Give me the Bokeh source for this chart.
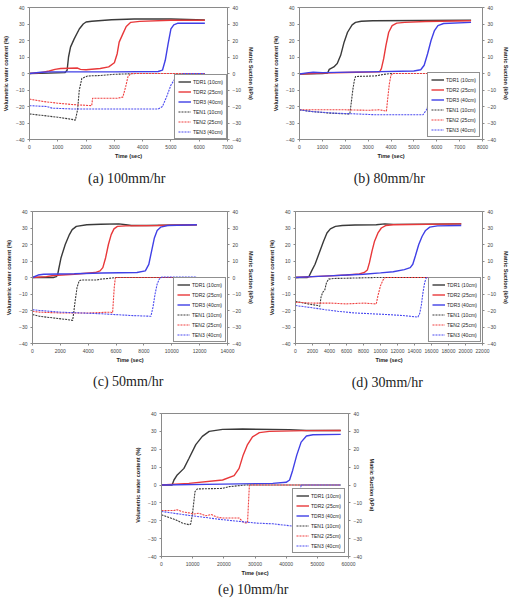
from bokeh.plotting import figure
from bokeh.models import Range1d, LinearAxis, FixedTicker, Legend, LegendItem, Title, Spacer
from bokeh.layouts import row, column
from bokeh.embed import file_html
from bokeh.resources import INLINE

# Infiltration test readings: (time in sec, value).
# TDR = volumetric water content (%), TEN = matric suction (kPa)

# (a) 100 mm/hr
a_tdr1 = [(0, 0), (700, 0.2), (1250, 0.5), (1330, 2), (1380, 10), (1450, 16), (1580, 21), (1760, 27),
          (1900, 30), (2000, 31.2), (2200, 31.7), (2900, 32.6), (3700, 33), (5000, 33), (6200, 32.5)]
a_tdr2 = [(0, 0), (400, 0.5), (700, 1.5), (900, 2.5), (1100, 3), (1700, 3.3), (1800, 2.5), (2000, 2.3),
          (2500, 3), (2800, 4), (3000, 6.5), (3100, 12), (3170, 19), (3300, 24), (3420, 28.5), (3580, 31),
          (3900, 31.6), (5000, 32.3), (6200, 32.3)]
a_tdr3 = [(0, 0), (400, 0.8), (800, 1), (3000, 1), (4550, 1.2), (4700, 2), (4800, 8), (4900, 18),
          (5000, 27), (5100, 29.5), (5250, 30.5), (6200, 30.5)]
a_ten1 = [(0, -24.5), (500, -25.5), (1000, -26.5), (1500, -27.8), (1620, -28.3), (1700, -22), (1760, -10),
          (1850, -3), (2050, -1.5), (2500, -1.2), (3000, -0.5), (3800, 0), (6200, 0)]
a_ten2 = [(0, -15.5), (500, -17), (1000, -18), (1500, -18.8), (2200, -19.5), (2230, -15), (2600, -15),
          (3100, -15), (3300, -14.3), (3400, -8), (3480, -2), (3580, 0), (6200, 0)]
a_ten3 = [(0, -19.5), (600, -20), (800, -21), (1500, -21.5), (4550, -21.5), (4700, -20), (4850, -14),
          (5000, -7), (5150, -3), (5300, -0.8), (5450, 0), (6200, 0)]

# (b) 80 mm/hr
b_tdr1 = [(0, -0.3), (1000, 0), (1230, 0.3), (1300, 2.5), (1500, 4), (1650, 6), (1800, 11), (1950, 19),
          (2100, 25), (2300, 29.5), (2450, 31), (2700, 31.7), (3200, 32), (7500, 32.3)]
b_tdr2 = [(0, -0.3), (1000, 0.3), (2500, 0.8), (3500, 1), (3580, 3), (3680, 9), (3780, 17), (3900, 25),
          (4050, 29), (4250, 30.5), (4600, 31), (5500, 31.5), (7500, 32)]
b_tdr3 = [(0, -0.3), (400, 0.5), (600, 0.8), (1000, 0.5), (3000, 1), (5000, 1.5), (5300, 2.3), (5450, 5),
          (5600, 12), (5750, 20), (5900, 26), (6050, 29), (6300, 30.3), (7500, 31)]
b_ten1 = [(0, -22), (500, -23), (1300, -24), (2100, -24.5), (2200, -24.5), (2260, -18), (2330, -10),
          (2400, -4), (2450, -1.8), (3300, -1.5), (3500, -1), (3800, -0.3), (4000, 0), (7500, 0)]
b_ten2 = [(0, -22), (2000, -22), (3000, -22.3), (3500, -22), (3800, -22.8), (3850, -16), (3930, -6),
          (4000, -1), (4100, 0), (7500, 0)]
b_ten3 = [(0, -22), (500, -23), (1500, -24), (2500, -24.5), (3300, -25), (5400, -25), (5550, -22),
          (5700, -16), (5850, -10), (6000, -5), (6150, -2), (6300, -0.7), (6450, 0), (7500, 0)]

# (c) 50 mm/hr
c_tdr1 = [(0, 0), (1500, 0), (1700, 0.5), (1800, 1.5), (1880, 5), (2050, 12), (2350, 20), (2650, 26),
          (2850, 29), (3150, 31), (3900, 32), (4900, 32.3), (6200, 32.5), (6700, 32), (7100, 31.5),
          (8200, 31.5), (11800, 32)]
c_tdr2 = [(0, 0), (1000, 0.5), (1500, 1.2), (3000, 2), (4500, 3), (4850, 4), (5050, 6), (5250, 12),
          (5450, 20), (5650, 26), (5850, 29.5), (6100, 31), (6700, 31.3), (9000, 31.5), (11800, 32)]
c_tdr3 = [(0, 0), (400, 1.5), (800, 2), (3000, 2.3), (5000, 2.7), (7500, 3), (8100, 4), (8350, 8),
          (8550, 16), (8750, 24), (8950, 28.5), (9200, 30.5), (9700, 31.5), (11800, 32)]
c_ten1 = [(0, -22.5), (500, -23.5), (1500, -24.5), (2500, -25.5), (2880, -26), (2950, -22), (3050, -15),
          (3200, -6), (3350, -2), (3500, -1.5), (4600, -1.5), (4900, -1), (5500, -0.5), (6000, 0),
          (11800, 0)]
c_ten2 = [(0, -20.5), (500, -21), (2000, -21.5), (4000, -21.5), (5600, -21), (5750, -21.5), (5800, -15),
          (5870, -6), (5950, 0), (11800, 0)]
c_ten3 = [(0, -19.5), (500, -20), (2000, -21), (5000, -22), (7000, -23), (8500, -23.5), (8650, -18),
          (8800, -10), (8950, -4), (9100, -1), (9300, 0.3), (11800, 0.3)]

# (d) 30 mm/hr
d_tdr1 = [(0, 0), (1400, 0), (1600, 0.8), (1900, 4), (2300, 8), (2800, 15), (3300, 22), (3700, 27),
          (4100, 29.5), (4700, 31), (5500, 31.5), (7000, 31.8), (9500, 32), (10500, 32.5), (11500, 32.2),
          (19500, 32.5)]
d_tdr2 = [(0, 0), (2000, 0.5), (4000, 1), (6000, 1.5), (7500, 2.2), (8100, 3), (8450, 4.5), (8700, 9),
          (9000, 16), (9300, 22), (9700, 27), (10100, 30), (10600, 31.5), (11500, 32), (19500, 32.5)]
d_tdr3 = [(0, 0), (2000, 0.5), (4000, 1), (6000, 1.5), (8000, 2), (10000, 2.8), (11500, 3.5),
          (12800, 4.8), (13500, 6), (13800, 8), (14100, 13), (14500, 20), (14900, 25), (15300, 28.5),
          (15800, 30.5), (16700, 31.3), (19500, 31.5)]
d_ten1 = [(0, -14.5), (1000, -15.5), (2000, -16.5), (2700, -17), (2850, -17.5), (3000, -12), (3200, -9),
          (3450, -7.5), (3650, -3), (3900, -1), (4500, -0.6), (7000, -0.3), (9500, 0), (19500, 0)]
d_ten2 = [(0, -15), (2000, -15.5), (4000, -15.5), (6000, -16), (8000, -15.5), (9400, -16), (9500, -16),
          (9700, -11), (10000, -5), (10300, -1.5), (10550, 0), (19500, 0)]
d_ten3 = [(0, -17), (1500, -18), (3500, -19.5), (5000, -20.5), (7000, -21.5), (9000, -22), (11000, -22.5),
          (12500, -23), (13500, -23.5), (14400, -24), (14600, -22), (14800, -17), (15000, -9),
          (15200, -3), (15400, 0), (19500, 0)]

# (e) 10 mm/hr
e_tdr1 = [(0, 0), (3400, 0), (4000, 2.8), (5050, 5.6), (7200, 9.3), (8800, 14.8), (11000, 22.6),
          (13100, 27.2), (15300, 30), (19600, 31.1), (26000, 31.3), (41000, 31), (46400, 30.5),
          (57500, 30.5)]
e_tdr2 = [(0, 0), (8800, 0.9), (19600, 2.8), (23300, 5.2), (24900, 9.3), (26200, 16.7), (27600, 22.6),
          (29200, 26.9), (31400, 29.3), (34600, 30), (46400, 30.4), (57500, 30.5)]
e_tdr3 = [(0, 0), (19600, 0.5), (35700, 0.9), (40000, 1.5), (41100, 2.8), (42100, 8.3), (43400, 16.7),
          (44800, 24), (46500, 27.4), (48600, 28.1), (57500, 28.3)]
e_ten1 = [(0, -16.7), (4500, -19.4), (6700, -21.3), (8800, -22.2), (9350, -21.9), (9900, -16.7),
          (10750, -3.7), (11500, -2.2), (19600, -1.9), (21700, -0.9), (27100, 0), (57500, 0)]
e_ten2 = [(0, -14.3), (4000, -14.3), (5000, -13.8), (6700, -15), (8800, -15.6), (10500, -16.2),
          (12000, -15.8), (14200, -17.2), (16000, -16.5), (17500, -17.8), (19600, -18.5), (24900, -18.5),
          (26200, -20.7), (27100, -21.3), (27600, -21), (28200, 0), (57500, 0)]
e_ten3 = [(0, -14.8), (8800, -17), (19600, -19.4), (30300, -21.3), (35700, -21.7), (42700, -23.1),
          (43200, -20), (44300, -5.6), (44800, 0), (57500, 0)]

SERIES_LABELS = ["TDR1 (10cm)", "TDR2 (25cm)", "TDR3 (40cm)", "TEN1 (10cm)", "TEN2 (25cm)", "TEN3 (40cm)"]
Y_TICKS = [-40, -30, -20, -10, 0, 10, 20, 30, 40]

COLORS = ["#3a3a3a", "#e8383a", "#4040e6"]
DASH_COLORS = ["#3a3a3a", "#f04040", "#4a4af0"]
SANS = "Liberation Sans"


def style_axis(ax, label_standoff):
    ax.axis_line_color = "#8a8a8a"
    ax.major_tick_line_color = "#8a8a8a"
    ax.major_tick_out = 2
    ax.major_tick_in = 0
    ax.minor_tick_line_color = None
    ax.major_label_text_font = SANS
    ax.major_label_text_font_size = "5px"
    ax.major_label_text_color = "#444444"
    ax.major_label_standoff = 3
    ax.axis_label_text_font = SANS
    ax.axis_label_text_font_size = "5.5px"
    ax.axis_label_text_font_style = "bold"
    ax.axis_label_text_color = "#222222"
    ax.axis_label_standoff = label_standoff


def panel(tdr, ten, xmax, xstep, caption, w, h, left, right, top, bottom, legend_margin, cap_standoff):
    p = figure(width=w, height=h, output_backend="svg", toolbar_location=None,
               x_range=Range1d(0, xmax), y_range=Range1d(-40, 40),
               min_border_left=left, min_border_right=right,
               min_border_top=top, min_border_bottom=bottom)
    p.extra_y_ranges = {"suction": Range1d(-40, 40)}
    p.grid.visible = False
    p.outline_line_color = "#8a8a8a"
    p.background_fill_color = "white"
    p.border_fill_color = "white"

    p.xaxis.ticker = FixedTicker(ticks=list(range(0, xmax + 1, xstep)))
    p.xaxis.axis_label = "Time (sec)"
    p.yaxis.ticker = FixedTicker(ticks=Y_TICKS)
    p.yaxis.axis_label = "Volumetric water content (%)"
    right_ax = LinearAxis(y_range_name="suction", ticker=FixedTicker(ticks=Y_TICKS),
                          axis_label="Matric Suction (kPa)")
    p.add_layout(right_ax, "right")
    style_axis(p.xaxis[0], 1)
    style_axis(p.yaxis[0], 4)
    style_axis(right_ax, 4)

    renderers = []
    for s, c in zip(tdr, COLORS):
        r = p.line([t for t, _ in s], [v for _, v in s], line_color=c, line_width=1.4)
        renderers.append(r)
    for s, c in zip(ten, DASH_COLORS):
        r = p.line([t for t, _ in s], [v for _, v in s], y_range_name="suction",
                   line_color=c, line_width=1.1, line_dash="2 1")
        renderers.append(r)

    legend = Legend(items=[LegendItem(label=lab, renderers=[r]) for lab, r in zip(SERIES_LABELS, renderers)],
                    location="bottom_right", margin=legend_margin, padding=3, spacing=3,
                    glyph_width=13, glyph_height=7, label_height=7, label_standoff=2,
                    label_text_font=SANS, label_text_font_size="5px", label_text_color="#222222",
                    border_line_color="#222222", border_line_width=1, background_fill_alpha=1.0)
    p.add_layout(legend)

    p.add_layout(Title(text=caption, align="center", text_font="Liberation Serif",
                       text_font_size="14px", text_font_style="normal", text_color="#222222",
                       standoff=cap_standoff), "below")
    return p


pa = panel([a_tdr1, a_tdr2, a_tdr3], [a_ten1, a_ten2, a_ten3], 7000, 1000, "(a)  100mm/hr",
           256, 192, 28, 28, 7, 51, 0, 14)
pb = panel([b_tdr1, b_tdr2, b_tdr3], [b_ten1, b_ten2, b_ten3], 8000, 1000, "(b)  80mm/hr",
           255, 192, 43, 25, 7, 51, 2, 14)
pc = panel([c_tdr1, c_tdr2, c_tdr3], [c_ten1, c_ten2, c_ten3], 14000, 2000, "(c)  50mm/hr",
           256, 204, 32, 28, 19, 49, 1, 12)
pd = panel([d_tdr1, d_tdr2, d_tdr3], [d_ten1, d_ten2, d_ten3], 22000, 2000, "(d)  30mm/hr",
           255, 204, 39, 27, 14, 51, 1, 14)
pe = panel([e_tdr1, e_tdr2, e_tdr3], [e_ten1, e_ten2, e_ten3], 60000, 10000, "(e)  10mm/hr",
           260, 202, 41, 32, 17, 42, 3, 3)

layout = column(row(pa, pb), row(pc, pd), row(Spacer(width=120, height=202), pe))

open("out.html", "w").write(file_html(layout, INLINE))
